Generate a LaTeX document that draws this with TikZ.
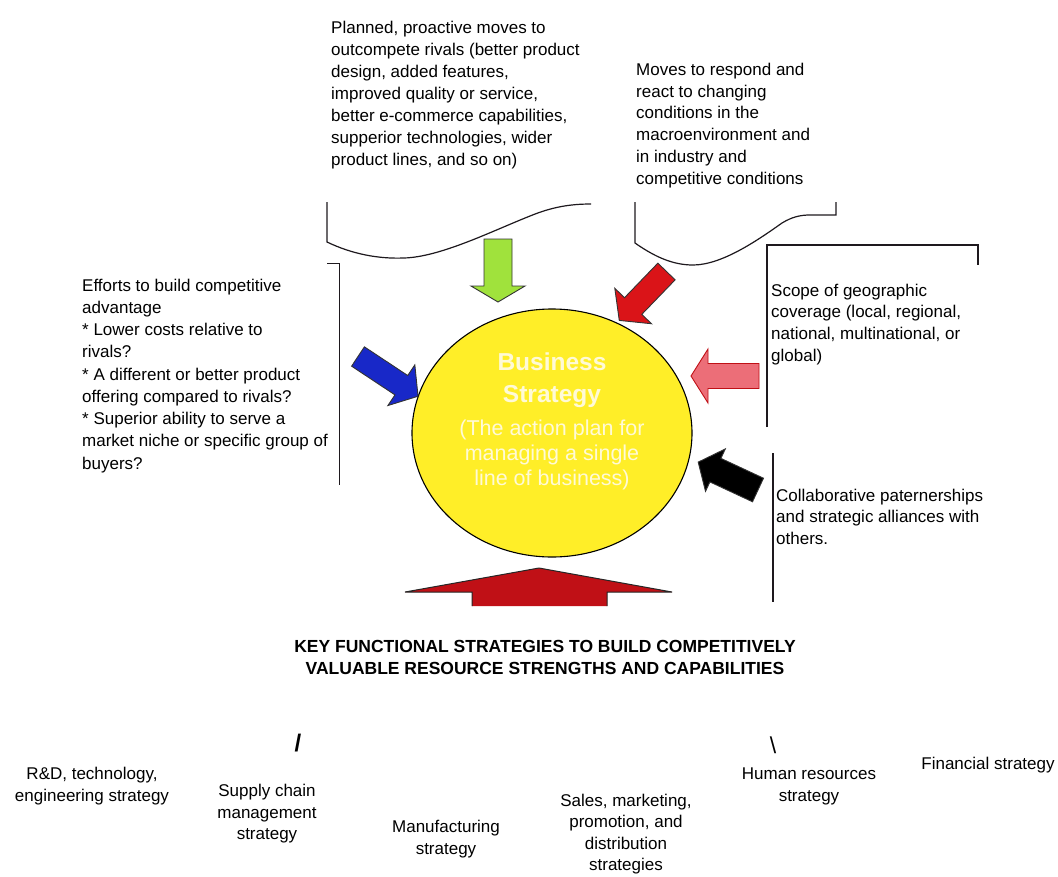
\documentclass[tikz,border=0pt]{standalone}
\usepackage{fontspec}
\setmainfont{Liberation Sans}
\usetikzlibrary{shapes.geometric}
\definecolor{yellowc}{RGB}{255,238,40}
\definecolor{greenc}{RGB}{160,226,60}
\definecolor{redc}{RGB}{218,20,24}
\definecolor{bluec}{RGB}{24,40,200}
\definecolor{pinkc}{RGB}{236,110,120}
\definecolor{darkredc}{RGB}{192,16,22}
\definecolor{paletext}{RGB}{255,250,215}
\definecolor{linec}{RGB}{30,25,30}
\newcommand\blockarr[8]{%
  \begin{scope}[shift={(#2,#3)},rotate=#4]
    \draw[#1] (0,#6) -- ({#5-#8},#6) -- ({#5-#8},#7) -- (#5,0) -- ({#5-#8},-#7) -- ({#5-#8},-#6) -- (0,-#6) -- cycle;
  \end{scope}}
\tikzset{
  txt/.style={inner sep=0pt, font=\fontsize{17}{21.8}\selectfont},
  txtl/.style={txt, anchor=north west, align=left},
  txtc/.style={txt, anchor=north, align=center},
  bracket/.style={draw=linec, line width=1.5pt},
  wave/.style={draw=linec, line width=1.2pt},
  arr/.style={line width=0.9pt, draw=black!80, line join=miter},
  intext/.style={inner sep=0pt, anchor=base, text=paletext}
}
\begin{document}
\begin{tikzpicture}[x=1pt,y=-1pt]
\useasboundingbox (0,0) rectangle (1058,876);
\fill[white] (0,0) rectangle (1058,876);

% top texts
\node[txtl, font=\fontsize{17}{22}\selectfont] (planned) at (331,20.7) {Planned, proactive moves to\\outcompete rivals (better product\\design, added features,\\improved quality or service,\\better e-commerce capabilities,\\supperior technologies, wider\\product lines, and so on)};
\node[txtl] (moves) at (636,62.7) {Moves to respond and\\react to changing\\conditions in the\\macroenvironment and\\in industry and\\competitive conditions};

% waves
\draw[wave] (327,202) -- (327,242) .. controls (352,254) and (378,259) .. (404,258)
  .. controls (440,257) and (490,232) .. (530,216) .. controls (552,207) and (570,204) .. (591,204);
\draw[wave] (635,202) -- (635,243) .. controls (655,257) and (673,265) .. (693,265)
  .. controls (722,265) and (758,240) .. (782,223) .. controls (792,217) and (800,215) .. (810,215) -- (836,215) -- (836,202);

% left text and bracket
\node[txtl, font=\fontsize{17}{22.25}\selectfont] (efforts) at (82,278.7) {Efforts to build competitive\\advantage\\* Lower costs relative to\\rivals?\\* A different or better product\\offering compared to rivals?\\* Superior ability to serve a\\market niche or specific group of\\buyers?};
\draw[bracket] (327,263.5) -- (339.5,263.5) -- (339.5,485);

% right texts and brackets
\node[txtl, font=\fontsize{17}{21.7}\selectfont] (scope) at (771,283.7) {Scope of geographic\\coverage (local, regional,\\national, multinational, or\\global)};
\draw[bracket] (767,427) -- (767,245) -- (978,245) -- (978,265);
\node[txtl, font=\fontsize{17}{21.5}\selectfont] (collab) at (776,488.7) {Collaborative paternerships\\and strategic alliances with\\others.};
\draw[bracket] (773,453) -- (773,602);

% central ellipse
\node[draw=black, line width=1.1pt, fill=yellowc, ellipse, minimum width=280pt, minimum height=248pt, inner sep=0pt] (bs) at (552,433) {};
\node[intext, font=\fontsize{24.5}{30}\selectfont\bfseries] (bs1) at (552,370.8) {Business};
\node[intext, font=\fontsize{24.5}{30}\selectfont\bfseries] (bs2) at (552,402.8) {Strategy};
\node[intext, font=\fontsize{21.5}{25}\selectfont] (bs3) at (552,435.5) {(The action plan for};
\node[intext, font=\fontsize{21.5}{25}\selectfont] (bs4) at (552,460.5) {managing a single};
\node[intext, font=\fontsize{21.5}{25}\selectfont] (bs5) at (552,485.5) {line of business)};

% block arrows
\blockarr{arr, fill=greenc}{498}{239}{-90}{63}{14}{27}{16}
\blockarr{arr, fill=redc}{666.5}{271.5}{-134}{68}{12}{25.5}{20}
\blockarr{arr, fill=bluec}{358}{356.5}{-33.5}{72}{11.6}{24.4}{20}
\blockarr{arr, fill=pinkc, draw=darkredc}{759}{376}{180}{68}{12.5}{27}{17}
\blockarr{arr, fill=black}{758}{490}{155}{66}{13}{23.4}{19}

% bottom big arrow
\fill[darkredc] (472,606) -- (472,592) -- (405,592) -- (539,568) -- (672,592) -- (607,592) -- (607,606) -- cycle;
\draw[line width=1pt, black!85] (472,606) -- (472,592) -- (405,592) -- (539,568) -- (672,592) -- (607,592) -- (607,606);

% heading
\node[inner sep=0pt, anchor=north, align=center, font=\fontsize{17.5}{22}\selectfont\bfseries] (head) at (545,639.7) {KEY FUNCTIONAL STRATEGIES TO BUILD COMPETITIVELY\\VALUABLE RESOURCE STRENGTHS AND CAPABILITIES};

% slashes
\node[inner sep=0pt, font=\fontsize{24}{28}\selectfont\bfseries] (sl1) at (298,743) {/};
\node[inner sep=0pt, font=\fontsize{23}{28}\selectfont] (sl2) at (773,745) {\textbackslash};

% bottom functional strategies
\node[txtc] (rd) at (92,766.7) {R\&D, technology,\\engineering strategy};
\node[txtc] (supply) at (267,783.7) {Supply chain\\management\\strategy};
\node[txtc] (manu) at (446,819.7) {Manufacturing\\strategy};
\node[txtc, font=\fontsize{17}{21.2}\selectfont] (sales) at (626,794.2) {Sales, marketing,\\promotion, and\\distribution\\strategies};
\node[txtc] (hr) at (809,767.7) {Human resources\\strategy};
\node[txtc] (fin) at (988,756.7) {Financial strategy};
\end{tikzpicture}
\end{document}
